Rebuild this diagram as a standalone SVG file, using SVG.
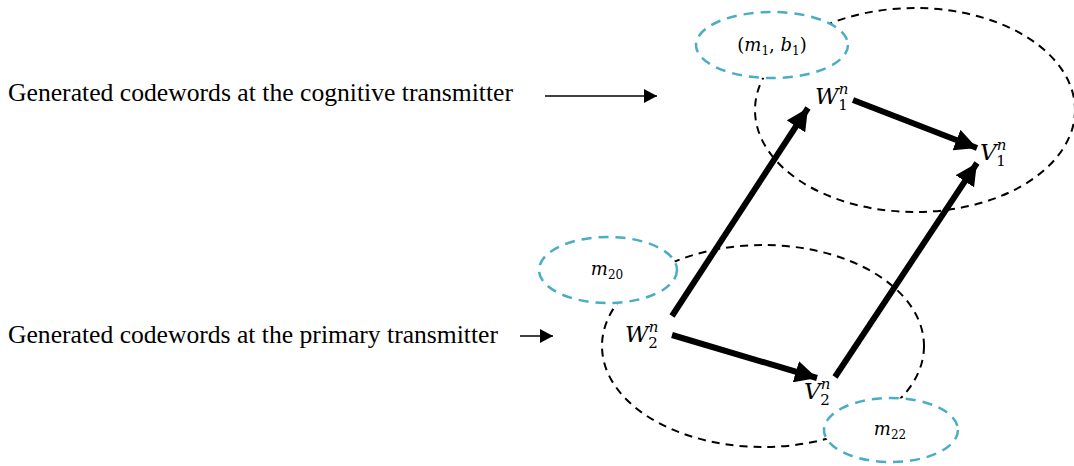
<svg xmlns="http://www.w3.org/2000/svg" width="1074" height="466" viewBox="0 0 1074 466">
<style>
.big{fill:none;stroke:#000;stroke-width:2;stroke-dasharray:8,6}
.cy{fill:#fff;stroke:#4bacc6;stroke-width:2.5;stroke-dasharray:10,7}
.lbl{font-family:"Liberation Serif",serif;font-size:25px;fill:#000}
.m{font-family:"DejaVu Serif","Liberation Serif",serif;font-style:italic;fill:#000}
.thick{stroke:#000;stroke-width:6;fill:none}
.thin{stroke:#000;stroke-width:1.5;fill:none}
</style>
<defs>
<marker id="ah" markerUnits="userSpaceOnUse" markerWidth="24" markerHeight="22" refX="22" refY="11" orient="auto"><path d="M0,0 L22,11 L0,22 z" fill="#000"/></marker>
<marker id="as" markerUnits="userSpaceOnUse" markerWidth="14" markerHeight="14" refX="13" refY="7" orient="auto"><path d="M0,0 L13,7 L0,14 z" fill="#000"/></marker>
</defs>
<rect width="1074" height="466" fill="#fff"/>
<g id="groups">
<ellipse class="big" cx="915" cy="110" rx="160" ry="102"/>
<ellipse class="big" cx="763" cy="346" rx="161" ry="101"/>
</g>
<g id="node-m1b1"><ellipse class="cy" cx="772" cy="45" rx="76" ry="33"/>
<text class="m" x="772" y="51" text-anchor="middle" font-size="18"><tspan font-style="normal">(</tspan>m<tspan font-size="12" dy="4" font-style="normal">1</tspan><tspan dy="-4" font-style="normal">, </tspan>b<tspan font-size="12" dy="4" font-style="normal">1</tspan><tspan dy="-4" font-style="normal">)</tspan></text></g>
<g id="node-m20"><ellipse class="cy" cx="608" cy="270" rx="69" ry="33"/>
<text class="m" x="607" y="275" text-anchor="middle" font-size="18">m<tspan font-size="12" dy="4" font-style="normal">20</tspan></text></g>
<g id="node-m22"><ellipse class="cy" cx="891" cy="430" rx="67" ry="32"/>
<text class="m" x="890" y="435" text-anchor="middle" font-size="18">m<tspan font-size="12" dy="4" font-style="normal">22</tspan></text></g>
<g id="node-W1"><text class="m" x="815" y="104" font-size="23">W<tspan font-size="15" dy="-10">n</tspan><tspan font-size="15" dx="-10" dy="16" font-style="normal">1</tspan></text></g>
<g id="node-V1"><text class="m" x="980" y="160" font-size="23">V<tspan font-size="15" dy="-10">n</tspan><tspan font-size="15" dx="-10" dy="16" font-style="normal">1</tspan></text></g>
<g id="node-W2"><text class="m" x="625" y="342" font-size="23">W<tspan font-size="15" dy="-10">n</tspan><tspan font-size="15" dx="-10" dy="16" font-style="normal">2</tspan></text></g>
<g id="node-V2"><text class="m" x="804" y="399" font-size="23">V<tspan font-size="15" dy="-10">n</tspan><tspan font-size="15" dx="-10" dy="16" font-style="normal">2</tspan></text></g>
<g id="label-cog"><text class="lbl" x="8" y="101" textLength="505" lengthAdjust="spacingAndGlyphs">Generated codewords at the cognitive transmitter</text></g>
<g id="label-pri"><text class="lbl" x="8" y="343" textLength="490" lengthAdjust="spacingAndGlyphs">Generated codewords at the primary transmitter</text></g>
<g id="connectors">
<line class="thin" x1="545" y1="96" x2="657" y2="96" marker-end="url(#as)"/>
<line class="thin" x1="520" y1="336" x2="553" y2="336" marker-end="url(#as)"/>
<line class="thick" x1="672" y1="316" x2="808" y2="108" marker-end="url(#ah)"/>
<line class="thick" x1="853" y1="100" x2="977" y2="148" marker-end="url(#ah)"/>
<line class="thick" x1="672" y1="335" x2="817" y2="378" marker-end="url(#ah)"/>
<line class="thick" x1="835" y1="377" x2="977" y2="163" marker-end="url(#ah)"/>
</g>
</svg>
